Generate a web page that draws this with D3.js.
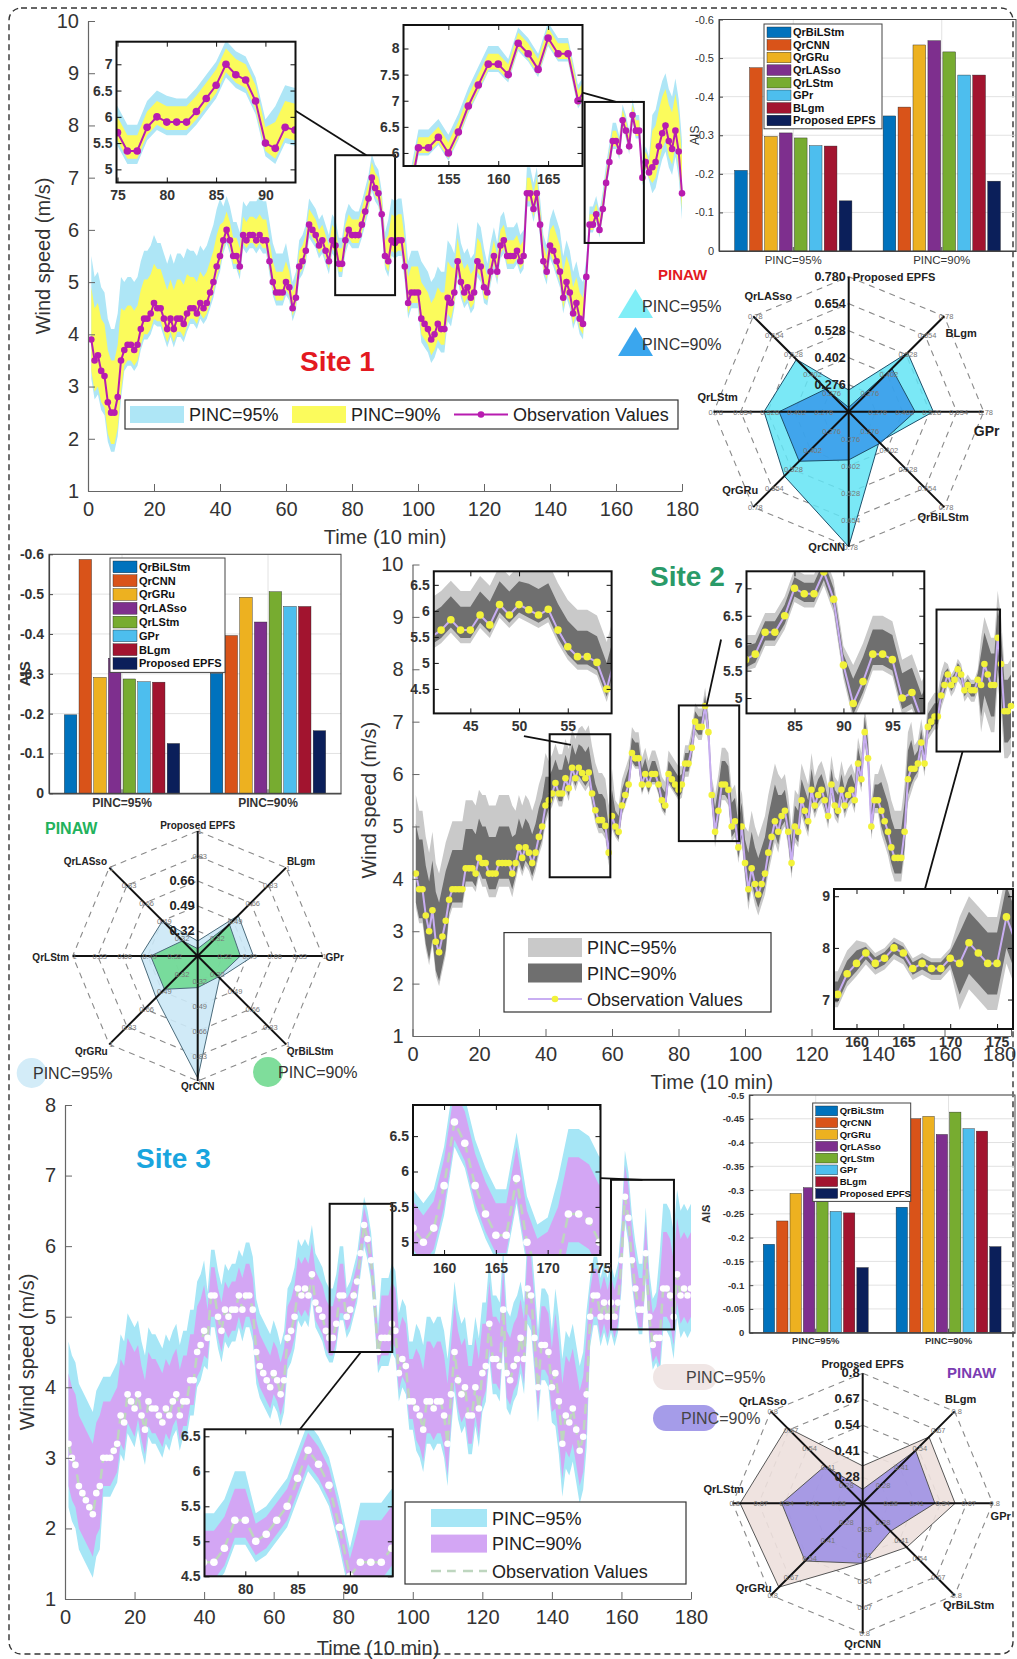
<!DOCTYPE html>
<html>
<head>
<meta charset="utf-8">
<script src="https://cdn.jsdelivr.net/npm/d3@7"></script>
<style>
  body { margin: 0; background: #fff; }
  svg text { font-family: "Liberation Sans", Arial, sans-serif; }
</style>
</head>
<body>
<svg id="fig" width="1017" height="1659"></svg>
<script>
// ---------- data ----------
const timeSteps = d3.range(1, 181);
const mainTimeTicks = d3.range(0, 181, 20);

// observation values, t = 1..180
const site1Obs = [
  3.9, 3.5, 3.6, 3.3, 3.2, 2.7, 2.5, 2.5, 2.8, 3.5,
  3.7, 3.8, 3.8, 3.7, 3.8, 4.1, 4.3, 4.3, 4.4, 4.6,
  4.5, 4.5, 4.3, 4.1, 4.3, 4.1, 4.3, 4.3, 4.2, 4.4,
  4.5, 4.5, 4.4, 4.6, 4.5, 4.6, 4.8, 5.0, 5.3, 5.5,
  5.8, 6.0, 5.8, 5.5, 5.5, 5.3, 5.9, 5.8, 5.9, 5.9,
  5.8, 5.9, 5.8, 5.8, 5.4, 5.0, 4.8, 4.8, 4.8, 5.0,
  4.9, 4.5, 4.7, 5.3, 5.4, 5.6, 6.1, 6.0, 5.9, 5.7,
  5.8, 5.6, 5.4, 5.8, 5.7, 5.35, 5.35, 5.8, 6.0, 5.9,
  5.9, 5.9, 6.1, 6.35, 6.6, 7.0, 6.8, 6.7, 6.3, 5.5,
  5.4, 5.8, 5.75, 5.8, 5.8, 5.3, 4.6, 4.8, 4.8, 4.8,
  4.3, 4.2, 4.1, 3.9, 4.0, 4.2, 4.1, 4.1, 4.7, 4.6,
  4.8, 5.4, 5.0, 4.8, 4.9, 4.7, 4.8, 5.4, 5.3, 4.9,
  4.8, 5.2, 5.5, 5.2, 5.7, 5.8, 5.5, 5.5, 5.5, 5.6,
  5.4, 5.5, 6.7, 6.7, 6.4, 6.7, 6.1, 5.4, 5.2, 5.7,
  5.6, 5.4, 5.2, 4.7, 5.0, 4.8, 4.4, 4.6, 4.3, 4.2,
  5.1, 6.1, 6.1, 6.3, 6.0, 6.4, 6.9, 7.3, 7.7, 7.7,
  7.5, 8.1, 7.9, 7.6, 8.2, 7.9, 7.9, 7.0, 7.3, 7.1,
  7.2, 7.3, 7.6, 7.85, 8.0, 7.7, 7.55, 7.9, 7.5, 6.7
];
const site2Obs = [
  4.1, 3.8, 3.8, 3.3, 3.0, 3.4, 2.8, 2.6, 2.9, 3.2,
  3.6, 3.8, 3.8, 3.8, 3.8, 4.2, 4.2, 4.2, 4.1, 4.4,
  4.3, 4.3, 4.1, 4.1, 4.1, 4.3, 4.3, 4.3, 4.3, 4.1,
  4.3, 4.6, 4.4, 4.6, 4.5, 4.3, 4.5, 4.8, 5.0, 5.4,
  5.5, 5.63, 5.83, 5.63, 5.63, 5.92, 5.73, 6.12, 5.92, 6.12,
  6.02, 5.92, 6.03, 5.63, 5.31, 5.12, 5.12, 5.01, 4.5, 5.2,
  5.0, 4.9, 5.4, 5.6, 5.8, 6.4, 6.3, 6.3, 5.8, 6.0,
  5.8, 6.0, 6.0, 5.8, 5.5, 5.4, 6.0, 5.9, 5.8, 5.7,
  5.8, 6.2, 6.2, 6.5, 7.0, 6.9, 6.9, 7.3, 6.8, 5.6,
  4.9, 5.3, 5.8, 5.8, 5.7, 5.0, 5.1, 4.6, 5.0, 4.3,
  3.8, 4.2, 3.9, 3.7, 3.9, 4.1, 4.5, 4.8, 5.1, 4.9,
  5.2, 5.3, 4.9, 4.3, 5.0, 4.9, 5.5, 5.3, 5.1, 5.7,
  5.4, 5.6, 5.7, 5.5, 5.2, 5.8, 5.4, 5.3, 5.7, 5.4,
  5.6, 5.7, 5.5, 6.2, 5.9, 6.8, 6.3, 5.0, 5.5, 5.5,
  5.3, 5.1, 4.9, 4.6, 4.4, 4.4, 4.4, 4.9, 5.9, 6.1,
  6.1, 6.2, 6.6, 6.2, 6.9, 7.0, 7.1, 7.1, 7.5, 7.7,
  7.9, 7.7, 7.8, 8.0, 7.9, 7.6, 7.7, 7.6, 7.6, 7.8,
  7.7, 8.1, 7.9, 7.7, 7.7, 8.6, 8.1, 7.2, 7.2, 7.3
];
const site3Obs = [
  3.2, 3.0, 2.9, 2.6, 2.5, 2.4, 2.3, 2.2, 2.5, 2.6,
  3.0, 3.0, 3.0, 3.1, 3.2, 3.6, 3.5, 3.9, 3.8, 3.7,
  3.9, 3.6, 3.4, 3.8, 3.7, 3.7, 3.6, 3.5, 3.7, 3.6,
  3.8, 3.9, 3.6, 3.8, 3.8, 4.1, 4.1, 4.5, 4.6, 4.8,
  4.7, 5.3, 5.3, 5.0, 4.8, 5.1, 5.0, 5.1, 5.1, 5.3,
  5.1, 5.3, 5.3, 5.1, 4.5, 4.3, 4.2, 4.1, 4.0, 4.2,
  4.1, 3.9, 4.1, 4.7, 4.8, 5.0, 5.4, 5.3, 5.4, 5.3,
  5.6, 5.2, 5.1, 5.0, 4.8, 4.7, 4.7, 4.9, 5.3, 5.3,
  5.0, 5.1, 5.3, 5.5, 5.9, 6.3, 6.1, 5.8, 5.2, 4.5,
  4.7, 4.7, 4.7, 4.9, 4.8, 4.2, 4.4, 4.3, 3.8, 3.8,
  3.7, 3.6, 3.4, 3.8, 3.8, 3.7, 3.8, 3.8, 3.6, 3.2,
  3.9, 4.5, 4.1, 3.9, 4.0, 3.6, 3.6, 4.0, 3.7, 4.2,
  4.3, 4.9, 4.4, 4.4, 4.3, 5.1, 4.2, 4.1, 4.3, 4.4,
  4.7, 4.4, 5.4, 5.3, 4.7, 4.0, 4.6, 4.6, 4.5, 4.0,
  4.2, 3.8, 3.2, 3.6, 3.5, 3.7, 3.4, 3.1, 3.3, 3.9,
  5.0, 5.3, 5.3, 5.0, 5.2, 5.0, 5.2, 5.0, 5.2, 5.8,
  6.7, 6.4, 5.8, 5.4, 5.1, 5.1, 5.9, 5.0, 4.6, 4.7,
  4.7, 5.4, 5.4, 5.3, 5.0, 5.6, 5.3, 5.4, 5.3, 5.4
];

// interval bounds as offsets from the observation, one value per 10 time steps
const site1Up95 = [1.6, 1.3, 1.25, 1.1, 0.65, 0.75, 0.5, 0.5, 0.45, 0.8, 1.1, 0.75, 0.55, 0.5, 0.8, 0.35, 0.3, 1.0];
const site1Up90 = [1.0, 0.75, 0.75, 0.6, 0.35, 0.4, 0.3, 0.3, 0.3, 0.5, 0.7, 0.45, 0.3, 0.3, 0.5, 0.2, 0.2, 0.7];
const site1Lo90 = [-0.6, -0.3, -0.25, -0.2, -0.15, -0.15, -0.15, -0.15, -0.15, -0.2, -0.3, -0.2, -0.15, -0.15, -0.2, -0.1, -0.1, -0.3];
const site1Lo95 = [-0.75, -0.4, -0.35, -0.3, -0.25, -0.25, -0.25, -0.25, -0.25, -0.3, -0.45, -0.3, -0.25, -0.25, -0.3, -0.15, -0.15, -0.5];

const site2Up95 = [1.5, 1.3, 1.3, 1.0, 0.75, 0.9, 0.5, 0.45, 0.35, 0.7, 1.1, 0.7, 0.55, 0.5, 0.9, 0.45, 0.2, 0.9];
const site2Up90 = [0.95, 0.75, 0.7, 0.55, 0.45, 0.5, 0.3, 0.25, 0.2, 0.45, 0.7, 0.4, 0.3, 0.3, 0.55, 0.25, 0.12, 0.6];
const site2Lo90 = [-0.55, -0.25, -0.3, -0.25, -0.15, -0.15, -0.15, -0.15, -0.15, -0.2, -0.25, -0.2, -0.15, -0.15, -0.3, -0.15, -0.12, -0.6];
const site2Lo95 = [-0.65, -0.35, -0.45, -0.35, -0.25, -0.25, -0.2, -0.2, -0.25, -0.3, -0.4, -0.3, -0.25, -0.25, -0.45, -0.25, -0.22, -0.9];

const site3Up95 = [1.45, 1.15, 1.05, 1.0, 0.65, 0.75, 0.7, 0.7, 0.4, 0.85, 1.2, 1.0, 0.9, 0.8, 1.2, 0.55, 0.65, 1.2];
const site3Up90 = [1.0, 0.8, 0.7, 0.65, 0.4, 0.45, 0.45, 0.45, 0.25, 0.6, 0.85, 0.7, 0.6, 0.55, 0.85, 0.38, 0.45, 0.8];
const site3Lo90 = [-0.6, -0.4, -0.35, -0.35, -0.3, -0.3, -0.3, -0.25, -0.2, -0.25, -0.45, -0.4, -0.35, -0.35, -0.5, -0.3, -0.25, -0.4];
const site3Lo95 = [-0.9, -0.55, -0.5, -0.5, -0.45, -0.45, -0.45, -0.35, -0.3, -0.4, -0.6, -0.55, -0.5, -0.5, -0.75, -0.42, -0.35, -0.6];

// AIS bars
const models = ["QrBiLStm", "QrCNN", "QrGRu", "QrLASso", "QrLStm", "GPr", "BLgm", "Proposed EPFS"];
const modelColors = ["#0072bd", "#d95319", "#edb120", "#7e2f8e", "#77ac30", "#4dbeee", "#a2142f", "#0b1f5a"];
const pincGroups = ["PINC=95%", "PINC=90%"];
const site1Ais95 = [-0.209, -0.475, -0.297, -0.306, -0.293, -0.273, -0.272, -0.13];
const site1Ais90 = [-0.35, -0.373, -0.534, -0.545, -0.516, -0.456, -0.456, -0.181];
const site2Ais95 = [-0.197, -0.587, -0.291, -0.339, -0.287, -0.28, -0.279, -0.125];
const site2Ais90 = [-0.301, -0.396, -0.492, -0.43, -0.506, -0.469, -0.469, -0.157];
const site3Ais95 = [-0.186, -0.235, -0.293, -0.305, -0.311, -0.255, -0.252, -0.137];
const site3Ais90 = [-0.264, -0.45, -0.455, -0.417, -0.464, -0.429, -0.424, -0.181];
const site1AisTicks = [0, -0.1, -0.2, -0.3, -0.4, -0.5, -0.6];
const site2AisTicks = [0, -0.1, -0.2, -0.3, -0.4, -0.5, -0.6];
const site3AisTicks = [0, -0.05, -0.1, -0.15, -0.2, -0.25, -0.3, -0.35, -0.4, -0.45, -0.5];

// PINAW radar, clockwise from the top
const radarAxes = ["Proposed EPFS", "BLgm", "GPr", "QrBiLStm", "QrCNN", "QrGRu", "QrLStm", "QrLASso"];
const radarMin = 0.15;
const site1Pinaw95 = [0.251, 0.539, 0.545, 0.35, 0.78, 0.575, 0.545, 0.495];
const site1Pinaw90 = [0.17, 0.435, 0.46, 0.358, 0.375, 0.477, 0.475, 0.30];
const site2Pinaw95 = [0.252, 0.54, 0.529, 0.361, 0.98, 0.55, 0.538, 0.488];
const site2Pinaw90 = [0.20, 0.455, 0.44, 0.35, 0.365, 0.47, 0.47, 0.296];
const site3Pinaw95 = [0.337, 0.619, 0.612, 0.461, 0.447, 0.743, 0.763, 0.687];
const site3Pinaw90 = [0.22, 0.524, 0.511, 0.347, 0.45, 0.558, 0.555, 0.415];
const site1RingTicks = [0.276, 0.402, 0.528, 0.654, 0.78];
const site2RingTicks = [0.32, 0.49, 0.66, 0.83, 1];
const site3RingTicks = [0.28, 0.41, 0.54, 0.67, 0.8];

// ---------- drawing ----------
const svg = d3.select("#fig");
const FONT = '"Liberation Sans", Arial, sans-serif';
const UIFONT = '"Open Sans", "Noto Sans", sans-serif';
let clipCount = 0;

svg.append("rect")
  .attr("x", 9).attr("y", 8).attr("width", 1004).attr("height", 1646).attr("rx", 12)
  .attr("fill", "none").attr("stroke", "#333").attr("stroke-width", 1.4)
  .attr("stroke-dasharray", "6,4");

function bandRows(obs, off) {
  return obs.map((v, i) => {
    const k = Math.min(off.up95.length - 1, Math.floor(i / 10));
    return {
      t: timeSteps[i], v,
      hi95: v + off.up95[k], hi90: v + off.up90[k],
      lo90: v + off.lo90[k], lo95: v + off.lo95[k]
    };
  });
}

function drawSeries(g, x, y, rows, st, r) {
  const area = (hi, lo) => d3.area().x(d => x(d.t)).y0(d => y(d[lo])).y1(d => y(d[hi]));
  g.append("path").datum(rows).attr("d", area("hi95", "lo95")).attr("fill", st.c95);
  g.append("path").datum(rows).attr("d", area("hi90", "lo90")).attr("fill", st.c90);
  g.append("path").datum(rows)
    .attr("d", d3.line().x(d => x(d.t)).y(d => y(d.v)))
    .attr("fill", "none").attr("stroke", st.line).attr("stroke-width", st.lw)
    .attr("stroke-dasharray", st.dash || null);
  g.selectAll(null).data(rows).join("circle")
    .attr("cx", d => x(d.t)).attr("cy", d => y(d.v)).attr("r", r).attr("fill", st.dot);
}

function styleAxis(sel, fs, bold, col) {
  sel.selectAll("path.domain").attr("stroke", col || "#666").attr("stroke-width", 1.2);
  sel.selectAll(".tick line").attr("stroke", col || "#666");
  sel.selectAll("text").attr("font-size", fs).attr("fill", "#333")
    .attr("font-family", FONT).attr("font-weight", bold ? "bold" : null);
}

function drawInset(g, X, Y, rows, st, ins) {
  const w = ins.x1 - ins.x0, h = ins.y1 - ins.y0;
  // box around the zoomed region in the main axes
  const bx0 = X(ins.xd[0]), bx1 = X(ins.xd[1]), by0 = Y(ins.yd[1]), by1 = Y(ins.yd[0]);
  g.append("rect").attr("x", bx0).attr("y", by0).attr("width", bx1 - bx0).attr("height", by1 - by0)
    .attr("fill", "none").attr("stroke", "#111").attr("stroke-width", 2);
  g.append("line")
    .attr("x1", ins.x0 + ins.link[0] * w).attr("y1", ins.y0 + ins.link[1] * h)
    .attr("x2", bx0 + ins.link[2] * (bx1 - bx0)).attr("y2", by0 + ins.link[3] * (by1 - by0))
    .attr("stroke", "#111").attr("stroke-width", 1.8);

  const gi = g.append("g").attr("transform", `translate(${ins.x0},${ins.y0})`);
  const id = "clip" + (clipCount++);
  gi.append("clipPath").attr("id", id).append("rect").attr("width", w).attr("height", h);
  gi.append("rect").attr("width", w).attr("height", h).attr("fill", "#fff");
  const xs = d3.scaleLinear().domain(ins.xd).range([0, w]);
  const ys = d3.scaleLinear().domain(ins.yd).range([h, 0]);
  drawSeries(gi.append("g").attr("clip-path", `url(#${id})`), xs, ys, rows, st, 3.8);
  const fmt = d => String(d);
  gi.append("g").attr("transform", `translate(0,${h})`)
    .call(d3.axisBottom(xs).tickValues(ins.xt).tickFormat(fmt).tickSizeInner(-5).tickSizeOuter(0).tickPadding(8))
    .call(s => styleAxis(s, 14, true, "#111"));
  gi.append("g")
    .call(d3.axisTop(xs).tickValues(ins.xt).tickFormat("").tickSizeInner(-5).tickSizeOuter(0))
    .call(s => styleAxis(s, 14, true, "#111"));
  gi.append("g")
    .call(d3.axisLeft(ys).tickValues(ins.yt).tickFormat(fmt).tickSizeInner(-5).tickSizeOuter(0).tickPadding(4))
    .call(s => styleAxis(s, 14, true, "#111"));
  gi.append("g").attr("transform", `translate(${w},0)`)
    .call(d3.axisRight(ys).tickValues(ins.yt).tickFormat("").tickSizeInner(-5).tickSizeOuter(0))
    .call(s => styleAxis(s, 14, true, "#111"));
  gi.selectAll("path.domain").remove();
  gi.append("rect").attr("width", w).attr("height", h)
    .attr("fill", "none").attr("stroke", "#111").attr("stroke-width", 2);
}

function drawMain(cfg) {
  const g = svg.append("g");
  const x = d3.scaleLinear().domain([0, 180]).range([cfg.left, cfg.right]);
  const y = d3.scaleLinear().domain([cfg.yTicks[0], cfg.yTicks[cfg.yTicks.length - 1]])
    .range([cfg.bottom, cfg.top]);
  const rows = bandRows(cfg.obs, cfg.off);
  drawSeries(g, x, y, rows, cfg.style, 3.3);

  const xg = g.append("g").attr("transform", `translate(0,${cfg.bottom})`)
    .call(d3.axisBottom(x).tickValues(mainTimeTicks).tickSizeInner(-7).tickSizeOuter(0).tickPadding(11))
    .call(s => styleAxis(s, 20));
  // keep the last label inside the page when the axis runs to the edge
  if (cfg.lastTickDx) {
    xg.selectAll(".tick text").filter(d => d === 180).attr("dx", cfg.lastTickDx);
  }
  g.append("g").attr("transform", `translate(${cfg.left},0)`)
    .call(d3.axisLeft(y).tickValues(cfg.yTicks).tickFormat(d3.format("d"))
      .tickSizeInner(-7).tickSizeOuter(0).tickPadding(9))
    .call(s => styleAxis(s, 20));

  g.append("text")
    .attr("transform", `translate(${cfg.yLabelX},${(cfg.top + cfg.bottom) / 2}) rotate(-90)`)
    .attr("text-anchor", "middle").attr("font-size", 20).attr("fill", "#333")
    .text("Wind speed (m/s)");
  g.append("text")
    .attr("x", (cfg.left + cfg.right) / 2).attr("y", cfg.xLabelY)
    .attr("text-anchor", "middle").attr("font-size", 20).attr("fill", "#333")
    .text("Time (10 min)");

  g.append("text").attr("x", cfg.title.x).attr("y", cfg.title.y)
    .attr("font-family", UIFONT).attr("font-weight", "bold").attr("font-size", 28)
    .attr("fill", cfg.title.color).text(cfg.title.text);

  cfg.insets.forEach(ins => drawInset(g, x, y, rows, cfg.style, ins));

  // legend
  const L = cfg.legend, st = cfg.style;
  const lg = g.append("g");
  lg.append("rect").attr("x", L.x).attr("y", L.y).attr("width", L.w).attr("height", L.h)
    .attr("fill", "#fff").attr("stroke", "#333").attr("stroke-width", 1.2);
  const items = [
    { kind: "patch", color: st.c95, label: "PINC=95%" },
    { kind: "patch", color: st.c90, label: "PINC=90%" },
    { kind: "line", label: "Observation Values" }
  ];
  items.forEach((it, i) => {
    const p = L.items[i];
    if (it.kind === "patch") {
      lg.append("rect").attr("x", p[0]).attr("y", p[1] - L.ph / 2).attr("width", L.pw).attr("height", L.ph)
        .attr("fill", it.color);
    } else {
      lg.append("line").attr("x1", p[0]).attr("x2", p[0] + L.pw).attr("y1", p[1]).attr("y2", p[1])
        .attr("stroke", st.line).attr("stroke-width", st.lw).attr("stroke-dasharray", st.dash || null);
      lg.append("circle").attr("cx", p[0] + L.pw / 2).attr("cy", p[1]).attr("r", 3.3).attr("fill", st.dot);
    }
    lg.append("text").attr("x", p[0] + L.pw + 5).attr("y", p[1] + 6.5)
      .attr("font-size", 18).attr("fill", "#222").text(it.label);
  });
}

function drawBars(cfg) {
  const g = svg.append("g");
  const x = d3.scaleBand().domain(pincGroups).range([cfg.left, cfg.right]).paddingInner(0.2).paddingOuter(0.1);
  const xi = d3.scaleBand().domain(models).range([0, x.bandwidth()]).paddingInner(0.15).paddingOuter(0.05);
  const y = d3.scaleLinear().domain([0, cfg.ticks[cfg.ticks.length - 1]]).range([cfg.bottom, cfg.top]);
  const wt = cfg.bold ? "bold" : null;

  g.selectAll(null).data(cfg.ticks).join("line")
    .attr("x1", cfg.left).attr("x2", cfg.right).attr("y1", d => y(d)).attr("y2", d => y(d))
    .attr("stroke", "#e2e2e2");
  g.selectAll(null).data(pincGroups).join("line")
    .attr("x1", d => x(d) + x.bandwidth() / 2).attr("x2", d => x(d) + x.bandwidth() / 2)
    .attr("y1", cfg.top).attr("y2", cfg.bottom).attr("stroke", "#e2e2e2");

  pincGroups.forEach((p, gi) => {
    const vals = gi === 0 ? cfg.v95 : cfg.v90;
    g.selectAll(null).data(models.map((m, i) => ({ m, i, v: vals[i] }))).join("rect")
      .attr("x", d => x(p) + xi(d.m)).attr("width", xi.bandwidth())
      .attr("y", d => y(d.v)).attr("height", d => y(0) - y(d.v))
      .attr("fill", d => modelColors[d.i]).attr("stroke", "#222").attr("stroke-width", 0.4);
  });

  g.append("g").attr("transform", `translate(${cfg.left},0)`)
    .call(d3.axisLeft(y).tickValues(cfg.ticks).tickFormat(d => d === 0 ? "0" : String(+d.toFixed(2)))
      .tickSizeInner(-4).tickSizeOuter(0).tickPadding(5))
    .call(s => styleAxis(s, cfg.tickFs, cfg.bold, "#444"));
  g.append("g").attr("transform", `translate(0,${cfg.bottom})`)
    .call(d3.axisBottom(x).tickSizeInner(-4).tickSizeOuter(0).tickPadding(5))
    .call(s => styleAxis(s, cfg.catFs, cfg.bold, "#444"));
  g.append("rect").attr("x", cfg.left).attr("y", cfg.top)
    .attr("width", cfg.right - cfg.left).attr("height", cfg.bottom - cfg.top)
    .attr("fill", "none").attr("stroke", "#444").attr("stroke-width", 1);

  g.append("text")
    .attr("transform", `translate(${cfg.aisX},${(cfg.top + cfg.bottom) / 2}) rotate(-90)`)
    .attr("text-anchor", "middle").attr("font-size", cfg.aisFs).attr("font-weight", wt)
    .attr("fill", "#333").text("AIS");

  const L = cfg.legend;
  g.append("rect").attr("x", L.x).attr("y", L.y).attr("width", L.w).attr("height", L.row * 8 + 4)
    .attr("fill", "#fff").attr("stroke", "#444");
  models.forEach((m, i) => {
    const yy = L.y + 2 + i * L.row;
    g.append("rect").attr("x", L.x + 3).attr("y", yy + 1).attr("width", L.pw).attr("height", L.row - 2)
      .attr("fill", modelColors[i]).attr("stroke", "#222").attr("stroke-width", 0.4);
    g.append("text").attr("x", L.x + L.pw + 5).attr("y", yy + L.row / 2 + L.fs * 0.36)
      .attr("font-size", L.fs).attr("font-weight", "bold").attr("fill", "#111").text(m);
  });
}

function drawRadar(cfg) {
  const g = svg.append("g").attr("transform", `translate(${cfg.cx},${cfg.cy})`);
  const maxV = cfg.ticks[cfg.ticks.length - 1];
  const r = d3.scaleLinear().domain([radarMin, maxV]).range([0, cfg.R]);
  const ang = k => -Math.PI / 2 + k * Math.PI / 4;
  const pt = (k, v) => [r(v) * Math.cos(ang(k)), r(v) * Math.sin(ang(k))];
  const closed = d3.line().curve(d3.curveLinearClosed);

  cfg.ticks.forEach(t => {
    g.append("path").attr("d", closed(radarAxes.map((a, k) => pt(k, t))))
      .attr("fill", "none").attr("stroke", "#8a8a8a").attr("stroke-width", 1.1)
      .attr("stroke-dasharray", "6,5");
  });
  [[cfg.v95, cfg.c95, cfg.o95], [cfg.v90, cfg.c90, cfg.o90]].forEach(([vals, col, op]) => {
    g.append("path").attr("d", closed(vals.map((v, k) => pt(k, v))))
      .attr("fill", col).attr("fill-opacity", op)
      .attr("stroke", cfg.edge).attr("stroke-width", 1);
  });
  radarAxes.forEach((a, k) => {
    const [ex, ey] = pt(k, maxV);
    g.append("line").attr("x1", 0).attr("y1", 0).attr("x2", ex).attr("y2", ey)
      .attr("stroke", "#111").attr("stroke-width", 2);
  });
  // small value labels along each axis
  radarAxes.forEach((a, k) => {
    if (k === 0) return;
    cfg.ticks.forEach(t => {
      const [px, py] = pt(k, t);
      g.append("text").attr("x", px + 2).attr("y", py + 3).attr("text-anchor", "middle")
        .attr("font-size", 7.5).attr("fill", "#777").text(cfg.fmtSmall(t));
    });
  });
  const nBold = cfg.boldCount || cfg.ticks.length;
  cfg.ticks.forEach((t, i) => {
    const bold = i < nBold;
    g.append("text").attr("x", bold ? -3 : 2).attr("y", -r(t) + (bold ? 4 : 3))
      .attr("text-anchor", bold ? "end" : "middle")
      .attr("font-size", bold ? cfg.boldFs : 7.5).attr("font-weight", bold ? "bold" : null)
      .attr("fill", bold ? "#222" : "#777")
      .text(bold ? cfg.fmtBold(t) : cfg.fmtSmall(t));
  });
  radarAxes.forEach((a, k) => {
    const [ex, ey] = pt(k, maxV);
    const [dx, dy, anchor, fs] = cfg.labels[k];
    const size = fs || cfg.labelFs;
    g.append("text").attr("x", ex + dx).attr("y", ey + dy + size * 0.35)
      .attr("text-anchor", anchor).attr("font-size", size).attr("font-weight", "bold")
      .attr("fill", "#222").text(a);
  });
}

// ---------- Site 1 ----------
drawMain({
  left: 88, right: 682, top: 21, bottom: 491, yTicks: d3.range(1, 11),
  yLabelX: 50, xLabelY: 544,
  obs: site1Obs,
  off: { up95: site1Up95, up90: site1Up90, lo90: site1Lo90, lo95: site1Lo95 },
  style: { c95: "#aee6f6", c90: "#fbfb5c", line: "#b81cb0", lw: 2, dot: "#b81cb0" },
  title: { text: "Site 1", x: 300, y: 371, color: "#e3191f" },
  insets: [
    { x0: 116.5, y0: 41.7, x1: 295.5, y1: 182.5, xd: [74.9, 93.05], yd: [4.75, 7.43],
      xt: [75, 80, 85, 90], yt: [5, 5.5, 6, 6.5, 7], link: [1, 0.49, 0.52, 0] },
    { x0: 403.5, y0: 25, x1: 582.5, y1: 166, xd: [150.5, 168.45], yd: [5.75, 8.45],
      xt: [155, 160, 165], yt: [6, 6.5, 7, 7.5, 8], link: [1, 0.48, 0.53, 0] }
  ],
  legend: { x: 125, y: 400, w: 553, h: 29, pw: 54, ph: 17,
            items: [[130, 414.5], [292, 414.5], [454, 414.5]] }
});

drawBars({
  left: 719, right: 1016, top: 19.5, bottom: 251, ticks: site1AisTicks,
  v95: site1Ais95, v90: site1Ais90, bold: false, tickFs: 11, catFs: 11.5,
  aisX: 699, aisFs: 12,
  legend: { x: 764, y: 24, w: 118, row: 12.6, pw: 24, fs: 11 }
});

drawRadar({
  cx: 848.7, cy: 411.7, R: 135, ticks: site1RingTicks,
  v95: site1Pinaw95, v90: site1Pinaw90,
  c95: "#63e4f4", o95: 0.85, c90: "#2f8fe8", o90: 0.75, edge: "#1d4f6a",
  fmtSmall: d => String(+d.toFixed(3)), fmtBold: d3.format(".3f"), boldFs: 12.5, labelFs: 11,
  labels: [[4, 0, "start"], [17, 17, "middle"], [3, 19, "middle", 14], [-1, 10, "middle"],
           [-22, 0, "middle"], [-13, -17, "middle"], [4, -15, "middle"], [15, -20, "middle"]]
});

// Site 1 PINAW legend
(function () {
  const g = svg.append("g");
  g.append("text").attr("x", 658).attr("y", 280).attr("font-family", UIFONT)
    .attr("font-weight", "bold").attr("font-size", 15).attr("fill", "#e3191f").text("PINAW");
  [["#80eef7", 289, "PINC=95%"], ["#3aa6ee", 327, "PINC=90%"]].forEach(([c, top, lab]) => {
    g.append("path").attr("d", `M618,${top + 29} L635.5,${top} L653,${top + 29} Z`).attr("fill", c);
    g.append("text").attr("x", 642).attr("y", top + 23).attr("font-family", UIFONT)
      .attr("font-size", 16).attr("fill", "#333").text(lab);
  });
})();

// ---------- Site 2 ----------
drawBars({
  left: 49, right: 341, top: 554.3, bottom: 793.3, ticks: site2AisTicks,
  v95: site2Ais95, v90: site2Ais90, bold: true, tickFs: 14, catFs: 12,
  aisX: 30, aisFs: 15,
  legend: { x: 110, y: 558, w: 115, row: 13.8, pw: 24, fs: 11 }
});

drawRadar({
  cx: 197.7, cy: 956, R: 125, ticks: site2RingTicks,
  v95: site2Pinaw95, v90: site2Pinaw90,
  c95: "#cbe8f6", o95: 0.9, c90: "#5bd57e", o90: 0.75, edge: "#4a6a7a",
  fmtSmall: d => String(+d.toFixed(2)), fmtBold: d => String(+d.toFixed(2)), boldFs: 13, labelFs: 10,
  boldCount: 3,
  labels: [[0, -6, "middle"], [15, -6, "middle"], [12, 1, "middle"], [24, 7, "middle"],
           [0, 5, "middle"], [-18, 7, "middle"], [-22, 1, "middle"], [-24, -6, "middle"]]
});

(function () {
  const g = svg.append("g");
  g.append("text").attr("x", 45).attr("y", 834).attr("font-family", UIFONT)
    .attr("font-weight", "bold").attr("font-size", 16).attr("fill", "#22b25c").text("PINAW");
  g.append("circle").attr("cx", 31.7).attr("cy", 1073).attr("r", 15).attr("fill", "#d3ecf8");
  g.append("text").attr("x", 33).attr("y", 1079).attr("font-family", UIFONT)
    .attr("font-size", 16).attr("fill", "#333").text("PINC=95%");
  g.append("circle").attr("cx", 268).attr("cy", 1072).attr("r", 15).attr("fill", "#7fdd9b");
  g.append("text").attr("x", 278).attr("y", 1078).attr("font-family", UIFONT)
    .attr("font-size", 16).attr("fill", "#333").text("PINC=90%");
})();

drawMain({
  left: 412.5, right: 1011, top: 564.5, bottom: 1036, yTicks: d3.range(1, 11),
  yLabelX: 376, xLabelY: 1089, lastTickDx: -12,
  obs: site2Obs,
  off: { up95: site2Up95, up90: site2Up90, lo90: site2Lo90, lo95: site2Lo95 },
  style: { c95: "#c9c9c9", c90: "#6f6f6f", line: "#c8aef2", lw: 2, dot: "#f2f23a" },
  title: { text: "Site 2", x: 650, y: 586, color: "#2a9a68" },
  insets: [
    { x0: 433.8, y0: 571.3, x1: 611.6, y1: 713.4, xd: [41.25, 59.5], yd: [4.03, 6.76],
      xt: [45, 50, 55], yt: [4.5, 5, 5.5, 6, 6.5], link: [0.507, 1.16, 0.35, 0.075] },
    { x0: 746.5, y0: 571.3, x1: 924.3, y1: 713.4, xd: [80.1, 98.26], yd: [4.72, 7.31],
      xt: [85, 90, 95], yt: [5, 5.5, 6, 6.5, 7], link: [-0.143, 0.48, 0.46, 0] },
    { x0: 834, y0: 889, x1: 1013, y1: 1029, xd: [157.6, 176.7], yd: [6.43, 9.14],
      xt: [160, 165, 170, 175], yt: [7, 8, 9], link: [0.508, 0, 0.41, 1] }
  ],
  legend: { x: 504, y: 932.6, w: 267, h: 79.4, pw: 54, ph: 19,
            items: [[528, 947.5], [528, 973], [528, 999]] }
});

// ---------- Site 3 ----------
drawMain({
  left: 65, right: 691, top: 1105, bottom: 1599, yTicks: d3.range(1, 9),
  yLabelX: 34, xLabelY: 1655,
  obs: site3Obs,
  off: { up95: site3Up95, up90: site3Up90, lo90: site3Lo90, lo95: site3Lo95 },
  style: { c95: "#a6e6f6", c90: "#d3a6f4", line: "#bed6bf", lw: 2.5, dash: "10,6", dot: "#ffffff" },
  title: { text: "Site 3", x: 136, y: 1168, color: "#19a5de" },
  insets: [
    { x0: 204.5, y0: 1429.3, x1: 392.8, y1: 1576.3, xd: [76.1, 94.1], yd: [4.5, 6.6],
      xt: [80, 85, 90], yt: [4.5, 5, 5.5, 6, 6.5], link: [0.507, 0, 0.5, 1] },
    { x0: 413, y0: 1105, x1: 600.5, y1: 1255, xd: [157, 175.1], yd: [4.82, 6.94],
      xt: [160, 165, 170, 175], yt: [5, 5.5, 6, 6.5], link: [1, 0.487, 0.5, 0] }
  ],
  legend: { x: 405, y: 1502, w: 281, h: 82, pw: 56, ph: 18,
            items: [[431, 1518], [431, 1543.6], [431, 1571]] }
});

drawBars({
  left: 749.3, right: 1015, top: 1095, bottom: 1332.7, ticks: site3AisTicks,
  v95: site3Ais95, v90: site3Ais90, bold: true, tickFs: 9.5, catFs: 9.5,
  aisX: 710, aisFs: 11,
  legend: { x: 812.7, y: 1103, w: 98, row: 11.8, pw: 22, fs: 9.5 }
});

drawRadar({
  cx: 862.7, cy: 1503.3, R: 130, ticks: site3RingTicks,
  v95: site3Pinaw95, v90: site3Pinaw90,
  c95: "#ede0dd", o95: 0.9, c90: "#8f82e6", o90: 0.75, edge: "#555",
  fmtSmall: d => String(+d.toFixed(2)), fmtBold: d => String(+d.toFixed(2)), boldFs: 13, labelFs: 11,
  labels: [[0, -9, "middle"], [6, -12, "middle"], [8, 13, "middle"], [14, 10, "middle"],
           [0, 11, "middle"], [-17, -7, "middle"], [-9, -14, "middle"], [-8, -10, "middle"]]
});

(function () {
  const g = svg.append("g");
  g.append("text").attr("x", 947).attr("y", 1378).attr("font-family", UIFONT)
    .attr("font-weight", "bold").attr("font-size", 15).attr("fill", "#7a3db2").text("PINAW");
  g.append("rect").attr("x", 653).attr("y", 1364).attr("width", 64).attr("height", 26).attr("rx", 13)
    .attr("fill", "#f0e6e5");
  g.append("text").attr("x", 686).attr("y", 1383).attr("font-family", UIFONT)
    .attr("font-size", 16).attr("fill", "#444").text("PINC=95%");
  g.append("rect").attr("x", 653).attr("y", 1405).attr("width", 64).attr("height", 26).attr("rx", 13)
    .attr("fill", "#a59ce9");
  g.append("text").attr("x", 681).attr("y", 1424).attr("font-family", UIFONT)
    .attr("font-size", 16).attr("fill", "#444").text("PINC=90%");
})();
</script>
</body>
</html>
